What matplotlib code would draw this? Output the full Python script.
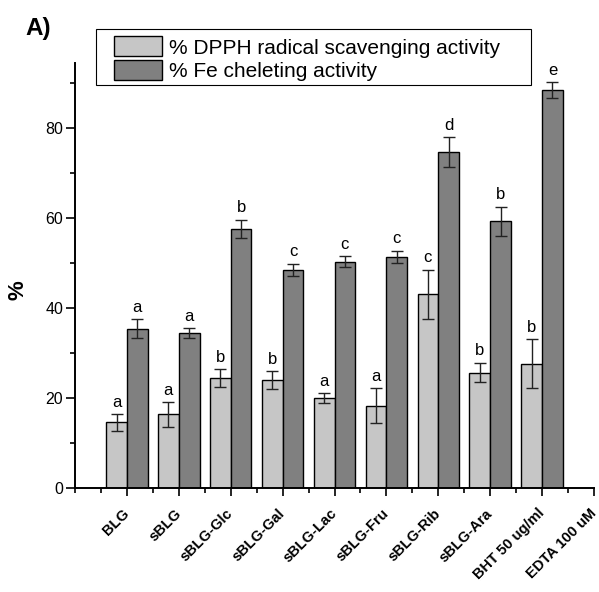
import numpy as np
import matplotlib
matplotlib.use("Agg")
import matplotlib.pyplot as plt
from matplotlib.patches import Rectangle, Patch
from matplotlib.ticker import MultipleLocator

plt.rcParams['font.family'] = ['Liberation Sans', 'DejaVu Sans']

# data
categories = ['BLG', 'sBLG', 'sBLG-Glc', 'sBLG-Gal', 'sBLG-Lac', 'sBLG-Fru',
              'sBLG-Rib', 'sBLG-Ara', 'BHT 50 ug/ml', 'EDTA 100 uM']
dpph = [14.5, 16.3, 24.3, 24.0, 19.9, 18.2, 43.0, 25.6, 27.6]
dpph_err = [1.8, 2.8, 2.0, 2.0, 1.1, 3.9, 5.5, 2.2, 5.4]
dpph_letters = ['a', 'a', 'b', 'b', 'a', 'a', 'c', 'b', 'b']
fe = [35.3, 34.3, 57.6, 48.4, 50.2, 51.3, 74.6, 59.2, 88.4]
fe_err = [2.1, 1.1, 2.0, 1.4, 1.2, 1.4, 3.3, 3.3, 1.8]
fe_letters = ['a', 'a', 'b', 'c', 'c', 'c', 'd', 'b', 'e']

light = '#c6c6c6'
dark = '#808080'

W, H = 599, 592
fig = plt.figure(figsize=(W / 100, H / 100), dpi=100)
ax = fig.add_axes([75 / W, 1 - 487.7 / H, 519 / W, (487.7 - 63) / H])

x = np.arange(len(dpph))
bw = 0.4
ax.bar(x - bw / 2, dpph, bw, color=light, edgecolor='black', lw=1,
       yerr=dpph_err, capsize=4, error_kw=dict(ecolor='#222222', elinewidth=1, capthick=1))
ax.bar(x + bw / 2, fe, bw, color=dark, edgecolor='black', lw=1,
       yerr=fe_err, capsize=4, error_kw=dict(ecolor='#222222', elinewidth=1, capthick=1))

for i in range(len(dpph)):
    ax.annotate(dpph_letters[i], (x[i] - bw / 2, dpph[i] + dpph_err[i]), xytext=(0, 3),
                textcoords='offset points', ha='center', va='bottom', fontsize=12)
    ax.annotate(fe_letters[i], (x[i] + bw / 2, fe[i] + fe_err[i]), xytext=(0, 3),
                textcoords='offset points', ha='center', va='bottom', fontsize=12)

ax.set_xlim(-1, 9)
ax.set_ylim(0, 94.4)
ax.set_xticks(np.arange(len(categories)))
ax.set_xticklabels(categories, rotation=45, ha='right', va='center',
                   rotation_mode='anchor', fontweight='bold', fontsize=10.5)
ax.xaxis.set_minor_locator(MultipleLocator(0.5))
ax.yaxis.set_major_locator(MultipleLocator(20))
ax.yaxis.set_minor_locator(MultipleLocator(10))
ax.tick_params(axis='x', which='major', length=6, width=1.2, pad=11)
ax.tick_params(axis='x', which='minor', length=3.5, width=1.2)
ax.tick_params(axis='y', which='major', length=6.5, width=1.2, labelsize=11.5, pad=2)
ax.tick_params(axis='y', which='minor', length=3.5, width=1.2)
for s in ['top', 'right']:
    ax.spines[s].set_visible(False)
for s in ['left', 'bottom']:
    ax.spines[s].set_linewidth(1.4)

fig.text(18 / W, 1 - 290 / H, '%', rotation=90, fontsize=16, fontweight='bold',
         ha='center', va='center')
fig.text(25 / W, 1 - 29 / H, 'A)', fontsize=17.5, fontweight='bold', ha='left', va='center')

# legend frame drawn separately so the padding matches the reference
fig.patches.append(Rectangle((96 / W, 1 - 85 / H), 435 / W, 56 / H, transform=fig.transFigure,
                             facecolor='white', edgecolor='black', lw=0.8, zorder=3))
handles = [Patch(facecolor=light, edgecolor='black', lw=1),
           Patch(facecolor=dark, edgecolor='black', lw=1)]
leg = fig.legend(handles, ['% DPPH radical scavenging activity', '% Fe cheleting activity'],
                 loc='upper left', bbox_to_anchor=(104 / W, 1 - 26 / H), frameon=False,
                 borderpad=0, fontsize=15, handlelength=2.26, handleheight=1.1,
                 labelspacing=0.1, handletextpad=0.34)
leg.set_zorder(4)

fig.savefig('out.png', dpi=100)
